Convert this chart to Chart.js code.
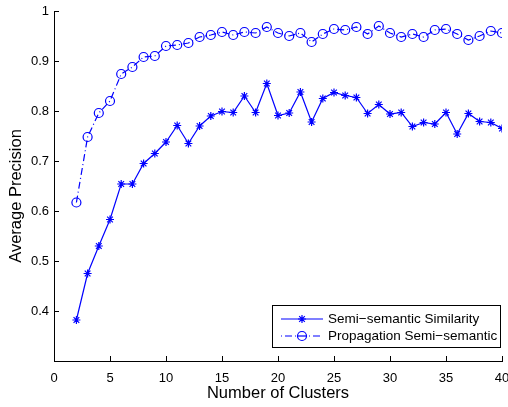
<!DOCTYPE html>
<html>
<head>
<meta charset="utf-8">
<script src="https://cdn.jsdelivr.net/npm/chart.js@4/dist/chart.umd.min.js"></script>
<style>
html,body{margin:0;padding:0;background:#fff;}
canvas{display:block;}
</style>
</head>
<body>
<canvas id="c" width="508" height="407"></canvas>
<script>
const clusters = [2,3,4,5,6,7,8,9,10,11,12,13,14,15,16,17,18,19,20,21,22,23,24,25,26,27,28,29,30,31,32,33,34,35,36,37,38,39,40];
const semiSemantic = [0.382,0.475,0.530,0.583,0.654,0.654,0.695,0.715,0.738,0.771,0.735,0.770,0.790,0.799,0.797,0.830,0.797,0.855,0.791,0.796,0.838,0.778,0.825,0.837,0.831,0.827,0.795,0.813,0.794,0.797,0.769,0.777,0.774,0.797,0.754,0.795,0.779,0.777,0.765];
const propagation = [0.617,0.748,0.796,0.820,0.874,0.888,0.908,0.910,0.930,0.932,0.936,0.948,0.952,0.958,0.952,0.958,0.956,0.968,0.956,0.950,0.956,0.938,0.954,0.964,0.962,0.968,0.954,0.970,0.956,0.948,0.954,0.948,0.962,0.964,0.954,0.942,0.950,0.960,0.956];
const seriesLabels = ['Semi\u2212semantic Similarity','Propagation Semi\u2212semantic'];
const xTicks = [0,5,10,15,20,25,30,35,40];
const yTicks = [0.4,0.5,0.6,0.7,0.8,0.9,1];
const yTitle = 'Average Precision';

const BLUE = '#0000ff';
const FONT = "'Liberation Sans', Arial, Helvetica, sans-serif";
const DASHDOT = [7,3,1,3];

const pts = (ys) => clusters.map((x,i)=>({x:x,y:ys[i]}));

const innerTicks = {
  id:'innerTicks',
  afterDraw(chart){
    const ctx = chart.ctx, xs = chart.scales.x, ys = chart.scales.y;
    const ca = chart.chartArea;
    ctx.save();
    ctx.strokeStyle = '#000';
    ctx.lineWidth = 1;
    ctx.beginPath();
    xTicks.forEach(v=>{
      const px = Math.round(xs.getPixelForValue(v))+0.5;
      ctx.moveTo(px, ca.bottom); ctx.lineTo(px, ca.bottom-5);
    });
    yTicks.forEach(v=>{
      const py = Math.round(ys.getPixelForValue(v))+0.5;
      ctx.moveTo(ca.left, py); ctx.lineTo(ca.left+5, py);
    });
    ctx.stroke();

    // y axis title
    ctx.save();
    ctx.translate(16, 196);
    ctx.rotate(-Math.PI/2);
    ctx.fillStyle='#000';
    ctx.font='16.5px '+FONT;
    ctx.textAlign='center';
    ctx.textBaseline='middle';
    ctx.fillText(yTitle,0,0);
    ctx.restore();

    // legend box
    const L=272.5, T=305.5, R=500.5, B=347.5;
    ctx.fillStyle='#fff';
    ctx.fillRect(L,T,R-L,B-T);
    ctx.strokeStyle='#000';
    ctx.lineWidth=1;
    ctx.strokeRect(L,T,R-L,B-T);
    const rows=[319,336];
    chart.data.datasets.forEach((ds,i)=>{
      const y=rows[i];
      ctx.save();
      ctx.strokeStyle=BLUE;
      ctx.lineWidth=1.2;
      ctx.setLineDash(i===1?[1,3,7,3]:[]);
      ctx.beginPath();
      ctx.moveTo(281,y); ctx.lineTo(323,y);
      ctx.stroke();
      ctx.restore();
      ctx.save();
      ctx.strokeStyle=BLUE;
      ctx.fillStyle='#fff';
      ctx.lineWidth=1.2;
      Chart.helpers.drawPoint(ctx,{pointStyle:ds.pointStyle,radius:ds.pointRadius,borderWidth:1.2,rotation:0},302,y);
      ctx.restore();
      if(i===1){
        ctx.save();
        ctx.strokeStyle=BLUE; ctx.lineWidth=1.2;
        ctx.beginPath(); ctx.moveTo(298,y); ctx.lineTo(306,y); ctx.stroke();
        ctx.restore();
      }
      ctx.fillStyle='#000';
      ctx.font='13.5px '+FONT;
      ctx.textBaseline='middle';
      ctx.textAlign='left';
      ctx.fillText(ds.label,328,y+0.5);
    });
    ctx.restore();
  }
};

new Chart(document.getElementById('c'),{
  type:'line',
  data:{
    datasets:[
      {label:seriesLabels[0],data:pts(semiSemantic),borderColor:BLUE,backgroundColor:'rgba(0,0,0,0)',
       borderWidth:1.2,pointStyle:'star',pointRadius:4,pointBorderWidth:1.2,pointBorderColor:BLUE,tension:0},
      {label:seriesLabels[1],data:pts(propagation),borderColor:BLUE,backgroundColor:'rgba(0,0,0,0)',
       borderWidth:1.2,borderDash:DASHDOT,pointStyle:'circle',pointRadius:4.5,pointBorderWidth:1.2,
       pointBorderColor:BLUE,pointBackgroundColor:'rgba(0,0,0,0)',tension:0}
    ]
  },
  options:{
    responsive:false,
    animation:false,
    devicePixelRatio:1,
    layout:{padding:{top:11,right:6,left:0,bottom:0}},
    plugins:{legend:{display:false},tooltip:{enabled:false}},
    scales:{
      x:{type:'linear',min:0,max:40,
        afterBuildTicks(s){s.ticks=xTicks.map(v=>({value:v}));},
        afterFit(s){s.height=46;s.paddingLeft=0;s.paddingRight=0;},
        grid:{display:true,drawOnChartArea:false,drawTicks:false},
        border:{display:true,color:'#000',width:1},
        ticks:{color:'#000',font:{family:FONT,size:13},padding:10,maxRotation:0,autoSkip:false},
        title:{display:true,text:'Number of Clusters',color:'#000',font:{family:FONT,size:16.5},padding:{top:0,bottom:4}}
      },
      y:{type:'linear',min:0.3,max:1,
        afterBuildTicks(s){s.ticks=yTicks.map(v=>({value:v}));},
        afterFit(s){s.width=54;s.paddingTop=0;s.paddingBottom=0;},
        grid:{display:true,drawOnChartArea:false,drawTicks:false},
        border:{display:true,color:'#000',width:1},
        ticks:{color:'#000',font:{family:FONT,size:13},padding:5,autoSkip:false,
          callback:(v)=>String(Number(v.toFixed(1)))},
        title:{display:false}
      }
    }
  },
  plugins:[innerTicks]
});
</script>
</body>
</html>
